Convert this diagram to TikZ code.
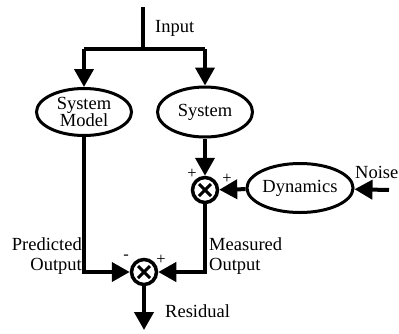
\documentclass[tikz,border=0pt]{standalone}
\usepackage{fontspec}
\setmainfont{Liberation Serif}
\usetikzlibrary{arrows.meta,shapes.geometric}
\begin{document}
\begin{tikzpicture}[x=1pt,y=-1pt,
  every node/.style={font=\fontsize{18.5}{20}\selectfont},
  wire/.style={line width=4pt},
  arr/.style={wire,-{Triangle[length=18pt,width=19pt]}},
  blockell/.style={ellipse,draw,line width=3pt,inner sep=0pt,align=center},
  junction/.style={circle,draw,line width=3.5pt,minimum size=25pt,inner sep=0pt,
    path picture={\draw[line width=3pt] (path picture bounding box.north west)++(6.5pt,-6.5pt) -- ++(12pt,-12pt);
                  \draw[line width=3pt] (path picture bounding box.north east)++(-6.5pt,-6.5pt) -- ++(-12pt,-12pt);}},
  sgn/.style={font=\fontsize{16.5}{16}\selectfont,inner sep=0pt},
  lbl/.style={inner sep=0pt}]
\useasboundingbox (0,0) rectangle (399,333);
\coordinate (in) at (143,7);
\coordinate (split) at (143,49);
\coordinate (lsplit) at (84,49);
\coordinate (rsplit) at (205,49);
\node[blockell,minimum width=95pt,minimum height=47pt] (sm) at (84,112) {System\\[-3pt]Model};
\node[blockell,minimum width=95pt,minimum height=50pt] (sys) at (205,112) {System};
\node[junction] (s1) at (205,190) {};
\node[blockell,minimum width=95pt,minimum height=49pt] (dyn) at (300,188) {Dynamics};
\coordinate (noise) at (389,190);
\node[junction] (s2) at (144,272) {};
\coordinate (res) at (144,330);
\coordinate (pc) at (84,272);
\coordinate (mc) at (205,272);

\draw[wire] (in) -- (split);
\draw[wire] (lsplit) -- (rsplit);
\draw[arr] (lsplit) -- (sm);
\draw[arr] (rsplit) -- (sys);
\draw[arr] (sys) -- (s1);
\draw[arr] (dyn) -- (s1);
\draw[arr] (noise) -- (dyn);
\draw[arr] (sm) -- (pc) -- (s2);
\draw[arr] (s1) -- (mc) -- (s2);
\draw[arr] (s2) -- (res);

\node[lbl,anchor=base west] (tin) at (155,32) {Input};
\node[lbl,anchor=base west] (tnoise) at (355,178) {Noise};
\node[lbl,anchor=base west] (tres) at (165,317) {Residual};
\node[lbl,anchor=south east,align=right] (tpred) at (82,275) {Predicted\\Output};
\node[lbl,anchor=south west,align=left] (tmeas) at (209,275) {Measured\\Output};
\node[sgn] (p1) at (192,174) {+};
\node[sgn] (p2) at (227,179) {+};
\node[sgn] (m3) at (126,257) {-};
\node[sgn] (p4) at (161,260) {+};
\end{tikzpicture}
\end{document}
